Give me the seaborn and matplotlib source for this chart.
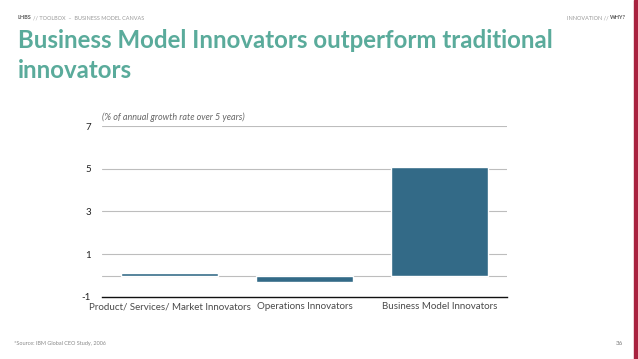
import matplotlib
matplotlib.use("Agg")
import matplotlib.pyplot as plt
import seaborn as sns
import pandas as pd

# data
categories = ["Product/ Services/ Market Innovators", "Operations Innovators", "Business Model Innovators"]
growth = [0.12, -0.3, 5.1]
tick_values = [-1, 1, 3, 5, 7]
grid_values = [0, 1, 3, 5, 7]

df = pd.DataFrame({"category": categories, "growth": growth})

sns.set_style("white")
plt.rcParams["font.family"] = ["Lato", "DejaVu Sans"]

fig = plt.figure(figsize=(6.38, 3.59), dpi=100)
ax = fig.add_axes([0.16, 0.173, 0.635, 0.476])

for g in grid_values:
    ax.axhline(g, color="#bdbdbd", lw=0.8, zorder=0)

sns.barplot(data=df, x="category", y="growth", color="#336a87", saturation=1,
            width=0.72, ax=ax, zorder=2)

ax.set_ylim(-1, 7)
ax.set_xlim(-0.5, 2.5)
ax.set_yticks(tick_values)
ax.set_yticklabels([str(t) for t in tick_values], fontsize=7, color="#222222")
ax.tick_params(axis="x", labelsize=7, colors="#4a4a4a", length=0, pad=4)
ax.tick_params(axis="y", length=0, pad=8)
ax.set_xlabel("")
ax.set_ylabel("")
for s in ["top", "right", "left"]:
    ax.spines[s].set_visible(False)
ax.spines["bottom"].set_color("#111111")
ax.spines["bottom"].set_linewidth(1.0)

ax.text(0.0, 1.025, "(% of annual growth rate over 5 years)", transform=ax.transAxes,
        fontsize=6.5, style="italic", color="#666666", ha="left", va="bottom")

# slide title, two lines
title_kw = dict(fontsize=17.3, fontweight="bold", color="#5aab9b", ha="left", va="baseline")
fig.text(18/638, 1 - 48/359, "Business Model Innovators outperform traditional", **title_kw)
fig.text(18/638, 1 - 78/359, "innovators", **title_kw)

# slide header / footer
small = 4.0
fig.text(18/638, 1 - 19/359, "LHBS", fontsize=small, fontweight="bold", color="#555555", ha="left", va="baseline")
fig.text(33/638, 1 - 19/359, "// TOOLBOX  –  BUSINESS MODEL CANVAS", fontsize=small, color="#999999",
         ha="left", va="baseline")
fig.text(609/638, 1 - 19/359, "INNOVATION //", fontsize=small, color="#999999", ha="right", va="baseline")
fig.text(610/638, 1 - 19/359, "WHY?", fontsize=small, fontweight="bold", color="#555555", ha="left", va="baseline")
fig.text(14/638, 1 - 345/359, "*Source: IBM Global CEO Study, 2006", fontsize=small, color="#888888",
         ha="left", va="baseline")
fig.text(623/638, 1 - 345/359, "36", fontsize=4.5, color="#777777", ha="right", va="baseline")
fig.patches.append(plt.Rectangle((634/638, 0), 4/638, 1, transform=fig.transFigure,
                                 color="#a8223f", zorder=5))

fig.savefig("out.png", dpi=100)
